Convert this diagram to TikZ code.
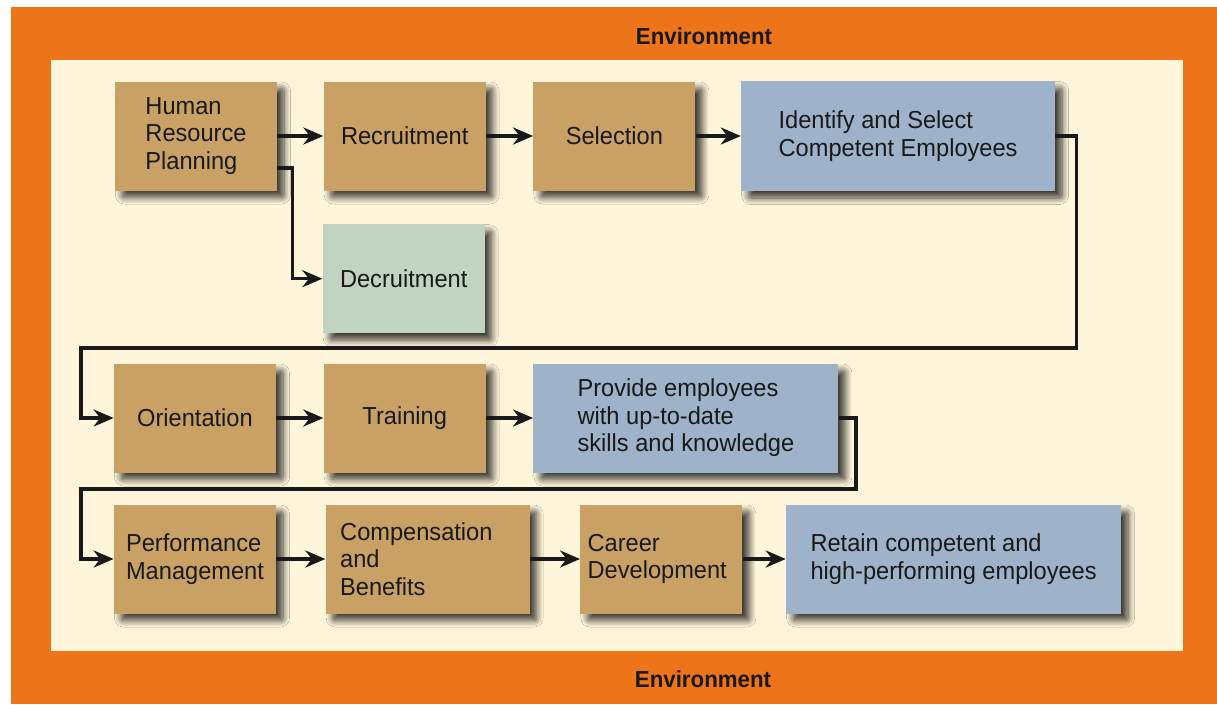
\documentclass[tikz,border=0pt]{standalone}
\usepackage{fontspec}
\setmainfont{Liberation Sans}[FakeStretch=0.96]
\usetikzlibrary{arrows.meta,positioning,shadows.blur}

\definecolor{envorange}{RGB}{238,116,25}
\definecolor{envcream}{RGB}{254,245,218}
\definecolor{stagetan}{RGB}{201,161,100}
\definecolor{goalblue}{RGB}{158,179,201}
\definecolor{decgreen}{RGB}{193,212,193}

\begin{document}
\begin{tikzpicture}[
    node distance=0.92cm,
    stage/.style={fill=stagetan, align=left, minimum width=3.24cm, minimum height=2.18cm, text=black!90,
        font=\fontsize{14}{15.6}\selectfont,
        blur shadow={shadow xshift=0.14cm, shadow yshift=-0.14cm, shadow opacity=75, shadow blur steps=10, shadow blur radius=0.13cm, shadow blur extra rounding=0.05cm}},
    goal/.style={stage, fill=goalblue},
    envlabel/.style={font=\bfseries\fontsize{13.2}{15}\selectfont, text=black!90},
    link/.style={-{Stealth[length=4mm, width=3.4mm, inset=1.3mm]}, line width=2pt, black!90}
]
\useasboundingbox (0,0) rectangle (24.34,-14.08);
\fill[white] (0,0) rectangle (24.34,-14.08);
\fill[envorange] (0.22,-0.14) rectangle (24.34,-14.08);
\fill[envcream] (1.02,-1.2) rectangle (23.66,-13.02);
\node[envlabel] (envtop) at (14.08,-0.72) {Environment};
\node[envlabel] (envbot) at (14.06,-13.58) {Environment};

% acquiring people
\node[stage] (hrp) at (3.92,-2.72) {Human\\Resource\\Planning};
\node[stage, right=of hrp] (recruit) {Recruitment};
\node[stage, right=0.94cm of recruit] (select) {Selection};
\node[goal, right=0.9cm of select, minimum width=6.28cm, minimum height=2.2cm] (identify) {Identify and Select\\Competent Employees};
\node[stage, below=0.66cm of recruit, fill=decgreen, xshift=-0.02cm] (decruit) {Decruitment};

% developing them
\node[stage] (orient) at (3.9,-8.36) {Orientation};
\node[stage, right=0.94cm of orient] (train) {Training};
\node[goal, right=0.94cm of train, minimum width=6.1cm] (provide) {Provide employees\\with up-to-date\\skills and knowledge};

% keeping them
\node[stage] (perf) at (3.9,-11.18) {Performance\\Management};
\node[stage, right=0.98cm of perf, minimum width=4.08cm, text width=3.5cm] (comp) {Compensation\\and\\Benefits};
\node[stage, right=1.0cm of comp, text width=2.95cm] (career) {Career\\Development};
\node[goal, right=0.86cm of career, minimum width=6.7cm] (retain) {Retain competent and\\high-performing employees};

\coordinate (turnA) at (1.62,-6.96);
\coordinate (turnB) at (1.62,-9.78);

\draw[link] (hrp) -- (recruit);
\draw[link] (recruit) -- (select);
\draw[link] (select) -- (identify);
\draw[link] ([yshift=-0.64cm]hrp.east) -- ++(0.3,0) |- (decruit.west);
\draw[link] (identify.east) -- ++(0.42,0) |- (turnA) |- (orient.west);
\draw[link] (orient) -- (train);
\draw[link] (train) -- (provide);
\draw[link] (provide.east) -- ++(0.34,0) |- (turnB) |- (perf.west);
\draw[link] (perf) -- (comp);
\draw[link] (comp) -- (career);
\draw[link] (career) -- (retain);
\end{tikzpicture}
\end{document}
